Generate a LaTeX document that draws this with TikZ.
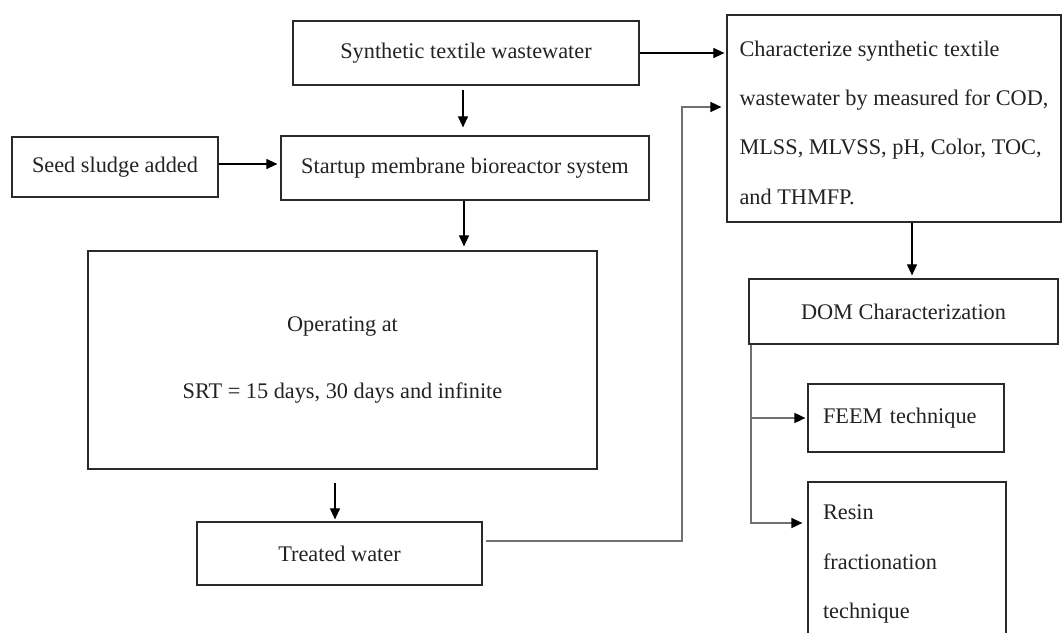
\documentclass[tikz,border=0pt]{standalone}
\usepackage{fontspec}
\setmainfont{Liberation Serif}
\usetikzlibrary{arrows.meta}
\definecolor{boxline}{HTML}{2A2A2A}
\definecolor{txt}{HTML}{222222}
\definecolor{grayline}{HTML}{707070}
\tikzset{
  box/.style={draw=boxline, line width=1.2pt, inner sep=0pt, text=txt,
    font=\fontsize{22.3}{49.3}\selectfont},
  arr/.style={draw=black, line width=1.1pt, -{Triangle[length=11pt,width=10pt]}},
  garr/.style={draw=grayline, line width=1.6pt, -{Triangle[length=11pt,width=10pt,color=black]}}
}
\begin{document}
\begin{tikzpicture}[x=1pt,y=-1pt]
\useasboundingbox (0,0) rectangle (1062,632);
\node[box, minimum width=346pt, minimum height=64pt] (synth) at (466,53) {Synthetic textile wastewater};
\node[box, minimum width=206pt, minimum height=60pt] (seed) at (115,167) {Seed sludge added};
\node[box, minimum width=368pt, minimum height=64pt] (startup) at (465,168) {Startup membrane bioreactor system};
\node[box, minimum width=509pt, minimum height=218pt, align=center,
  font=\fontsize{22.3}{67}\selectfont] (oper) at (342.5,360) {Operating at\\SRT = 15 days, 30 days and infinite};
\node[box, minimum width=285pt, minimum height=63pt] (treated) at (339.5,553.5) {Treated water};
\node[box, minimum width=334pt, minimum height=207pt, align=left]
  (char) at (894,118.5) {\rule{0pt}{24pt}Characterize synthetic textile\\wastewater by measured for COD,\\MLSS, MLVSS, pH, Color, TOC,\\and THMFP.};
\node[box, minimum width=309pt, minimum height=65pt] (dom) at (903.5,311.5) {DOM Characterization};
\node[box, minimum width=196pt, minimum height=68pt, text width=166pt, align=left, inner xsep=15pt]
  (feem) at (906,418) {FEEM technique};
\node[box, minimum width=198pt, minimum height=164.4pt, text width=168pt, align=left, inner xsep=15pt]
  (resin) at (907,564.2) {Resin\\fractionation\\technique};

\coordinate (xa) at (463,0);
\coordinate (xb) at (464,0);
\coordinate (xc) at (335,0);
\coordinate (xd) at (912,0);
\coordinate (ya) at (0,164);
\coordinate (yb) at (0,53);
\coordinate (tw1) at (682,541);
\coordinate (tw2) at (682,107);
\coordinate (br) at (751,0);
\coordinate (yr) at (0,523);

\draw[arr, shorten <=4pt, shorten >=8pt] (synth.south -| xa) -- (startup.north -| xa);
\draw[arr, shorten >=4pt] (startup.south -| xb) -- (oper.north -| xb);
\draw[arr, shorten >=3pt] (seed.east |- ya) -- (startup.west |- ya);
\draw[arr, shorten <=13pt, shorten >=2pt] (oper.south -| xc) -- (treated.north -| xc);
\draw[arr, shorten >=2pt] (synth.east |- yb) -- (char.west |- yb);
\draw[garr, shorten <=3pt, shorten >=5pt] (treated.east |- tw1) -- (tw1) -- (tw2) -- (char.west |- tw2);
\draw[arr, shorten >=3pt] (char.south -| xd) -- (dom.north -| xd);
\draw[garr, shorten >=5pt] (dom.south -| br) |- (resin.west |- yr);
\draw[garr, shorten >=2pt] (feem.west -| br) -- (feem.west);
\end{tikzpicture}
\end{document}
